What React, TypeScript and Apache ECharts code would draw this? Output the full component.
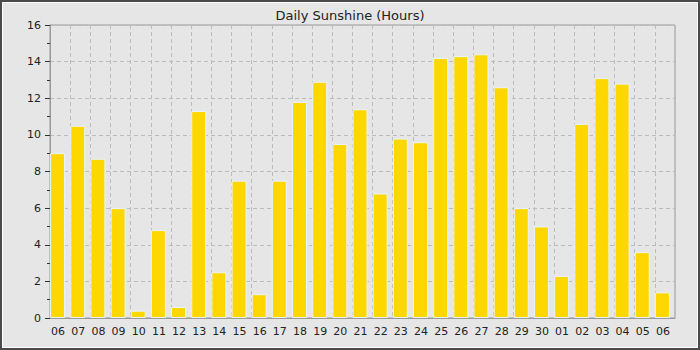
import React, { useEffect, useRef } from "react";
import * as echarts from "echarts";

const titleText = "Daily Sunshine (Hours)";
const days = [
  "06", "07", "08", "09", "10", "11", "12", "13", "14", "15", "16", "17", "18", "19", "20",
  "21", "22", "23", "24", "25", "26", "27", "28", "29", "30", "01", "02", "03", "04", "05", "06",
];
const sunshineHours = [
  9.0, 10.5, 8.7, 6.0, 0.4, 4.8, 0.6, 11.3, 2.5, 7.5, 1.3, 7.5, 11.8, 12.9, 9.5,
  11.4, 6.8, 9.8, 9.6, 14.2, 14.3, 14.4, 12.6, 6.0, 5.0, 2.3, 10.6, 13.1, 12.8, 3.6, 1.4,
];
const yMin = 0;
const yMax = 16;
const yInterval = 2;

export default function App() {
  const ref = useRef<HTMLDivElement>(null);
  useEffect(() => {
    if (!ref.current) return;
    const chart = echarts.init(ref.current, undefined, { renderer: "svg" });
    const font = "DejaVu Sans";
    chart.setOption({
      animation: false,
      backgroundColor: "#e6e6e6",
      textStyle: { fontFamily: font },
      title: {
        text: titleText,
        left: "center",
        top: 4,
        textStyle: { fontFamily: font, fontSize: 13, fontWeight: "normal", color: "#222" },
      },
      graphic: [
        {
          type: "rect",
          shape: { x: 1, y: 1, width: 698, height: 348 },
          style: { fill: "none", stroke: "#4a4a4a", lineWidth: 2 },
          silent: true,
        },
        {
          type: "rect",
          shape: { x: 2.5, y: 2.5, width: 695, height: 345 },
          style: { fill: "none", stroke: "#ffffff", lineWidth: 1 },
          silent: true,
        },
      ],
      grid: {
        left: 50,
        right: 25,
        top: 25,
        bottom: 32,
        show: true,
        borderColor: "#999",
        borderWidth: 1,
        backgroundColor: "transparent",
      },
      xAxis: {
        type: "category",
        data: days,
        boundaryGap: true,
        axisLine: { lineStyle: { color: "#999" } },
        axisTick: { show: false },
        axisLabel: {
          color: "#222",
          fontSize: 11,
          fontFamily: font,
          margin: 8,
          interval: 0,
          padding: [0, 4, 0, 0],
        },
        splitLine: { show: true, lineStyle: { color: "#bbb", type: [4, 3] } },
      },
      yAxis: {
        type: "value",
        min: yMin,
        max: yMax,
        interval: yInterval,
        axisLine: { show: true, lineStyle: { color: "#999" } },
        axisTick: { show: true, length: 5, lineStyle: { color: "#333" } },
        minorTick: { show: true, splitNumber: 2, length: 3, lineStyle: { color: "#333" } },
        axisLabel: { color: "#222", fontSize: 11, fontFamily: font, margin: 9 },
        splitLine: { show: true, lineStyle: { color: "#bbb", type: [4, 3] } },
      },
      series: [
        {
          type: "bar",
          data: sunshineHours,
          barWidth: 15,
          barGap: 0,
          itemStyle: { color: "#ffd700", borderColor: "#e8f4ff", borderWidth: 1 },
        },
        {
          type: "bar",
          data: sunshineHours.map(() => null),
          barWidth: 5,
          barGap: 0,
        },
      ],
    });
    return () => chart.dispose();
  }, []);
  return (
    <div
      ref={ref}
      style={{ position: "fixed", left: 0, top: 0, width: 700, height: 350 }}
    />
  );
}
